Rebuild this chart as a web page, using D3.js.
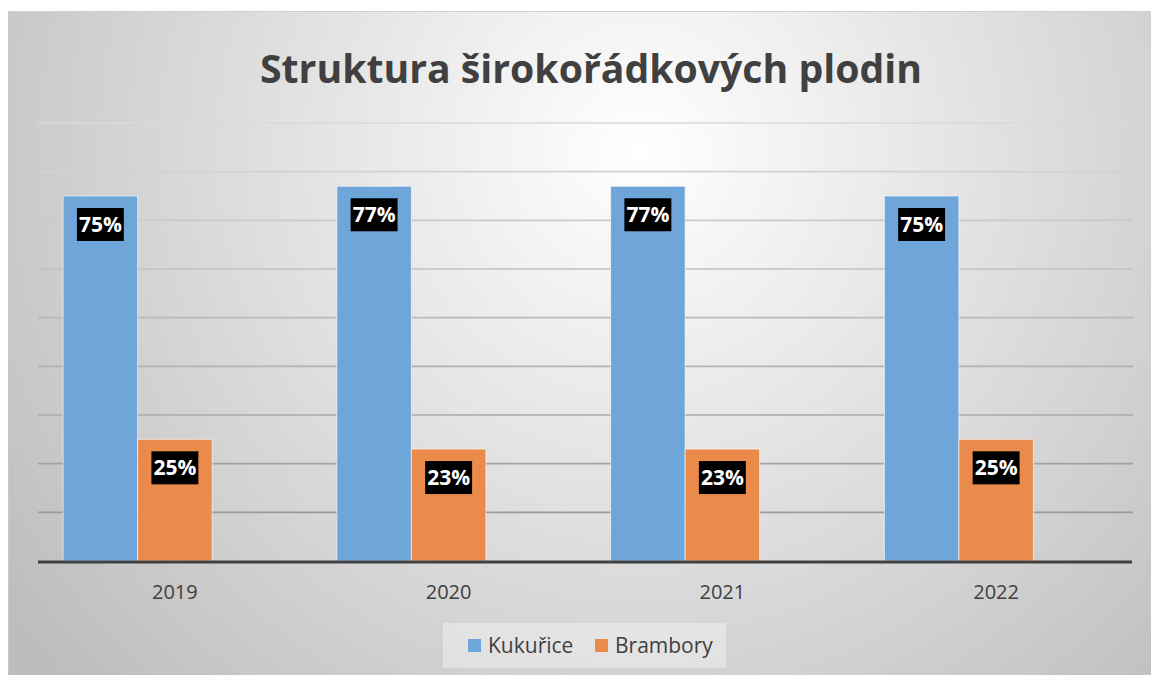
<!DOCTYPE html>
<html>
<head>
<meta charset="utf-8">
<script src="https://cdn.jsdelivr.net/npm/d3@7"></script>
<style>
  html, body { margin: 0; padding: 0; background: #ffffff; }
  svg { display: block; }
</style>
</head>
<body>
<svg id="chart" width="1151" height="675"></svg>
<script>
// chart data
const title = "Struktura širokořádkových plodin";
const years = ["2019", "2020", "2021", "2022"];
const seriesNames = ["Kukuřice", "Brambory"];
const kukurice = [0.75, 0.77, 0.77, 0.75];
const brambory = [0.25, 0.23, 0.23, 0.25];
// the original has an empty third slot in each group
const slots = ["Kukuřice", "Brambory", "prázdná"];
const yTicks = [0, 0.1, 0.2, 0.3, 0.4, 0.5, 0.6, 0.7, 0.8, 0.9];

const colors = { "Kukuřice": "#6fa6d9", "Brambory": "#ea8b4c" };

const svg = d3.select("#chart");
const font = "'Open Sans', 'DejaVu Sans', sans-serif";

// background gradient
const defs = svg.append("defs");
const bg = defs.append("radialGradient")
    .attr("id", "bg")
    .attr("gradientUnits", "userSpaceOnUse")
    .attr("cx", 640).attr("cy", 150).attr("r", 780);
bg.append("stop").attr("offset", "0%").attr("stop-color", "#ffffff");
bg.append("stop").attr("offset", "100%").attr("stop-color", "#bdbdbd");

svg.append("rect")
    .attr("x", 8).attr("y", 11)
    .attr("width", 1151 - 8).attr("height", 675 - 11)
    .attr("fill", "url(#bg)");
svg.append("line")
    .attr("x1", 8).attr("x2", 1151).attr("y1", 11.5).attr("y2", 11.5)
    .attr("stroke", "#cfcfcf").attr("stroke-width", 1);
svg.append("line")
    .attr("x1", 8.5).attr("x2", 8.5).attr("y1", 11).attr("y2", 675)
    .attr("stroke", "#c8c8c8").attr("stroke-width", 1);

// scales
const plotLeft = 38, plotRight = 1133, plotTop = 123, plotBottom = 561;

const x0 = d3.scaleBand()
    .domain(years)
    .range([plotLeft, plotRight]);

const x1 = d3.scaleBand()
    .domain(slots)
    .range([0, x0.bandwidth()])
    .paddingInner(0)
    .paddingOuter(0.337);

const y = d3.scaleLinear()
    .domain([0, 0.9])
    .range([plotBottom, plotTop]);

// gridlines, lighter towards the top like the original
const gridColor = d3.scaleLinear()
    .domain([0.9, 0.1])
    .range(["#dadada", "#9a9a9a"]);

svg.append("g")
    .selectAll("line")
    .data(yTicks.filter(d => d > 0))
    .enter()
    .append("line")
        .attr("x1", plotLeft)
        .attr("x2", plotRight)
        .attr("y1", d => y(d))
        .attr("y2", d => y(d))
        .attr("stroke", d => gridColor(d))
        .attr("stroke-width", 1.6);

// bars
const rows = years.map((yr, i) => ({
    year: yr,
    values: [
        { key: "Kukuřice", value: kukurice[i] },
        { key: "Brambory", value: brambory[i] }
    ]
}));

const groups = svg.append("g")
    .selectAll("g")
    .data(rows)
    .enter()
    .append("g")
        .attr("transform", d => `translate(${x0(d.year)},0)`);

groups.selectAll("rect")
    .data(d => d.values)
    .enter()
    .append("rect")
        .attr("x", d => x1(d.key))
        .attr("y", d => y(d.value))
        .attr("width", x1.bandwidth())
        .attr("height", d => y(0) - y(d.value))
        .attr("fill", d => colors[d.key])
        .attr("stroke", "rgba(255,255,255,0.6)")
        .attr("stroke-width", 1);

// data labels: white bold text on black box, inside end
const labels = groups.selectAll("g.lbl")
    .data(d => d.values)
    .enter()
    .append("g")
        .attr("class", "lbl");

labels.append("rect").attr("fill", "#000000");
labels.append("text")
    .attr("x", d => x1(d.key) + x1.bandwidth() / 2)
    .attr("y", d => y(d.value) + 36)
    .attr("text-anchor", "middle")
    .attr("font-family", font)
    .attr("font-weight", "bold")
    .attr("font-size", 21)
    .attr("fill", "#ffffff")
    .text(d => Math.round(d.value * 100) + "%");

labels.each(function(d) {
    const g = d3.select(this);
    const w = g.select("text").node().getComputedTextLength();
    const cx = x1(d.key) + x1.bandwidth() / 2;
    g.select("rect")
        .attr("x", cx - w / 2 - 2)
        .attr("y", y(d.value) + 12)
        .attr("width", w + 4)
        .attr("height", 33);
});

// baseline
svg.append("line")
    .attr("x1", plotLeft).attr("x2", plotRight - 1)
    .attr("y1", y(0) + 1).attr("y2", y(0) + 1)
    .attr("stroke", "#404040")
    .attr("stroke-width", 3);

// x axis labels
svg.append("g")
    .selectAll("text")
    .data(years)
    .enter()
    .append("text")
        .attr("x", d => x0(d) + x0.bandwidth() / 2)
        .attr("y", 599)
        .attr("text-anchor", "middle")
        .attr("font-family", font)
        .attr("font-size", 20)
        .attr("fill", "#404040")
        .text(d => d);

// title, sized to the original width
const titleText = svg.append("text")
    .attr("x", 591)
    .attr("y", 83)
    .attr("text-anchor", "middle")
    .attr("font-family", font)
    .attr("font-weight", "bold")
    .attr("font-size", 40)
    .attr("fill", "#404040")
    .text(title);
const tw = titleText.node().getComputedTextLength();
titleText.attr("font-size", 40 * 662 / tw);

// legend
svg.append("rect")
    .attr("x", 443).attr("y", 623)
    .attr("width", 283).attr("height", 45)
    .attr("fill", "rgba(255,255,255,0.35)");

const legendX = [468, 595];
const legend = svg.append("g")
    .selectAll("g")
    .data(seriesNames)
    .enter()
    .append("g")
        .attr("transform", (d, i) => `translate(${legendX[i]},639)`);

legend.append("rect")
    .attr("width", 13)
    .attr("height", 13)
    .attr("fill", d => colors[d]);

legend.append("text")
    .attr("x", 20)
    .attr("y", 14)
    .attr("font-family", font)
    .attr("font-size", 21)
    .attr("fill", "#404040")
    .text(d => d);
</script>
</body>
</html>
